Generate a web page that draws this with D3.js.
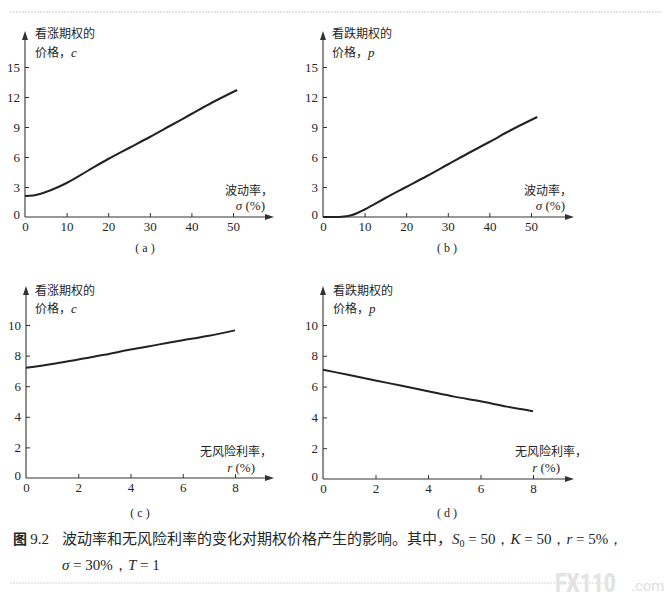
<!DOCTYPE html>
<html>
<head>
<meta charset="utf-8">
<style>
  body { margin: 0; background: #fff; }
  svg text { fill: #262626; }
  .num { font-family: "Liberation Serif", "DejaVu Serif", serif; font-size: 13px; }
  .cjk { font-family: "Noto Sans CJK SC", sans-serif; font-size: 12px; font-weight: 400; }
  .cap { font-family: "Noto Sans CJK SC", sans-serif; font-size: 15px; font-weight: 400; }
  .it { font-family: "Liberation Serif", serif; font-style: italic; }
  .rm { font-family: "Liberation Serif", serif; }
</style>
</head>
<body>
<svg id="fig" width="670" height="601"></svg>
<script src="https://cdnjs.cloudflare.com/ajax/libs/d3/7.8.5/d3.min.js"></script>
<script>
// values
const sigmaA = [0, 2, 4, 6, 8, 10, 15, 20, 25, 30, 35, 40, 45, 51];
const callVsSigma = [2.1, 2.15, 2.35, 2.65, 3.0, 3.4, 4.6, 5.8, 6.9, 8.0, 9.15, 10.3, 11.45, 12.7];
const sigmaB = [0, 2, 4, 5, 6, 7, 8, 10, 15, 20, 25, 30, 35, 40, 45, 51.5];
const putVsSigma = [0, 0, 0.01, 0.04, 0.1, 0.2, 0.35, 0.75, 1.9, 3.0, 4.1, 5.25, 6.4, 7.5, 8.65, 10.0];
const rateC = [0, 1, 2, 3, 4, 5, 6, 7, 8];
const callVsRate = [7.2, 7.45, 7.75, 8.05, 8.4, 8.7, 9.0, 9.3, 9.65];
const putVsRate = [7.1, 6.75, 6.4, 6.05, 5.7, 5.35, 5.05, 4.7, 4.4];

const sigmaTicks = [0, 10, 20, 30, 40, 50];
const priceTicksTop = [0, 3, 6, 9, 12, 15];
const rateTicks = [0, 2, 4, 6, 8];
const priceTicksBottom = [0, 2, 4, 6, 8, 10];

const svg = d3.select("#fig");

// faint scan lines at top and bottom
svg.append("line").attr("x1", 10).attr("x2", 662).attr("y1", 12).attr("y2", 12)
  .attr("stroke", "#ccc").attr("stroke-width", 1.2).attr("stroke-dasharray", "2,1");
svg.append("line").attr("x1", 10).attr("x2", 610).attr("y1", 583).attr("y2", 583)
  .attr("stroke", "#d6d6d6").attr("stroke-width", 1.2).attr("stroke-dasharray", "2,1");

const panels = [
  { xs: sigmaA, ys: callVsSigma, xDom: [0, 50], xPx: [25, 233], yDom: [0, 15], yPx: [217, 67],
    xEnd: 274, yTop: 31, xTicks: sigmaTicks, yTicks: priceTicksTop,
    top: ["看涨期权的", "价格，", "c"], topX: 35, topY: [38, 57],
    xl: ["波动率，", "σ", " (%)"], xlX: [273, 265], xlY: [195, 210],
    tag: "( a )", tagX: 145, tagY: 252 },
  { xs: sigmaB, ys: putVsSigma, xDom: [0, 50], xPx: [323, 531], yDom: [0, 15], yPx: [217, 67],
    xEnd: 574, yTop: 31, xTicks: sigmaTicks, yTicks: priceTicksTop,
    top: ["看跌期权的", "价格，", "p"], topX: 332, topY: [38, 57],
    xl: ["波动率，", "σ", " (%)"], xlX: [572, 565], xlY: [195, 210],
    tag: "( b )", tagX: 447, tagY: 252 },
  { xs: rateC, ys: callVsRate, xDom: [0, 8], xPx: [26, 235], yDom: [0, 10], yPx: [478, 325],
    xEnd: 274, yTop: 286, xTicks: rateTicks, yTicks: priceTicksBottom,
    top: ["看涨期权的", "价格，", "c"], topX: 35, topY: [295, 313],
    xl: ["无风险利率，", "r", " (%)"], xlX: [272, 255], xlY: [456, 472],
    tag: "( c )", tagX: 140, tagY: 517 },
  { xs: rateC, ys: putVsRate, xDom: [0, 8], xPx: [323, 533], yDom: [0, 10], yPx: [479, 325],
    xEnd: 574, yTop: 286, xTicks: rateTicks, yTicks: priceTicksBottom,
    top: ["看跌期权的", "价格，", "p"], topX: 333, topY: [295, 313],
    xl: ["无风险利率，", "r", " (%)"], xlX: [587, 560], xlY: [456, 472],
    tag: "( d )", tagX: 447, tagY: 517 }
];

panels.forEach(p => {
  const x = d3.scaleLinear().domain(p.xDom).range(p.xPx);
  const y = d3.scaleLinear().domain(p.yDom).range(p.yPx);
  const x0 = x(0), y0 = y(0);
  const g = svg.append("g");

  // axis lines with arrow heads
  g.append("line").attr("x1", x0).attr("x2", p.xEnd - 6).attr("y1", y0).attr("y2", y0)
    .attr("stroke", "#333").attr("stroke-width", 1.1);
  g.append("line").attr("x1", x0).attr("x2", x0).attr("y1", y0).attr("y2", p.yTop + 6)
    .attr("stroke", "#333").attr("stroke-width", 1.1);
  g.append("path").attr("d", `M${p.xEnd},${y0} L${p.xEnd - 9},${y0 - 3} L${p.xEnd - 9},${y0 + 3} Z`)
    .attr("fill", "#333");
  g.append("path").attr("d", `M${x0},${p.yTop} L${x0 - 3},${p.yTop + 9} L${x0 + 3},${p.yTop + 9} Z`)
    .attr("fill", "#333");

  const xa = g.append("g").attr("transform", `translate(0,${y0})`)
    .call(d3.axisBottom(x).tickValues(p.xTicks).tickSize(-4).tickPadding(5).tickFormat(d3.format("d")));
  const ya = g.append("g").attr("transform", `translate(${x0},0)`)
    .call(d3.axisLeft(y).tickValues(p.yTicks).tickSize(-4).tickPadding(5).tickFormat(d3.format("d")));
  [xa, ya].forEach(a => {
    a.select(".domain").remove();
    a.selectAll("line").attr("stroke", "#333");
    a.selectAll("text").attr("class", "num").attr("fill", "#262626").style("font-size", "13px");
  });
  ya.selectAll(".tick").filter(d => d === 0).select("text").attr("dy", "0.1em");
  xa.selectAll(".tick").filter(d => d === 0).select("line").remove();
  ya.selectAll(".tick").filter(d => d === 0).select("line").remove();

  // curve
  const line = d3.line().x(d => x(d[0])).y(d => y(d[1])).curve(d3.curveMonotoneX);
  g.append("path").datum(p.xs.map((v, i) => [v, p.ys[i]]))
    .attr("d", line).attr("fill", "none").attr("stroke", "#222").attr("stroke-width", 2);

  // y label
  g.append("text").attr("class", "cjk").attr("x", p.topX).attr("y", p.topY[0]).text(p.top[0]);
  const t2 = g.append("text").attr("class", "cjk").attr("x", p.topX).attr("y", p.topY[1]);
  t2.append("tspan").text(p.top[1]);
  t2.append("tspan").attr("class", "it").style("font-size", "13px").text(p.top[2]);

  // x label
  g.append("text").attr("class", "cjk").attr("x", p.xlX[0]).attr("y", p.xlY[0])
    .attr("text-anchor", "end").text(p.xl[0]);
  const t4 = g.append("text").attr("x", p.xlX[1]).attr("y", p.xlY[1]).attr("text-anchor", "end")
    .style("font-size", "13px");
  t4.append("tspan").attr("class", "it").text(p.xl[1]);
  t4.append("tspan").attr("class", "rm").text(p.xl[2]);

  g.append("text").attr("class", "rm").attr("x", p.tagX).attr("y", p.tagY)
    .attr("text-anchor", "middle").style("font-size", "12px").attr("xml:space", "preserve").text(p.tag);
});

// caption
const c1 = svg.append("text").attr("class", "cap").attr("y", 544);
c1.append("tspan").attr("x", 13).style("font-weight", 700).style("font-size", "14px").text("图 ");
c1.append("tspan").attr("class", "rm").style("font-size", "15px").text("9.2");
c1.append("tspan").attr("x", 62).text("波动率和无风险利率的变化对期权价格产生的影响。其中，");
c1.append("tspan").attr("class", "it").text("S");
c1.append("tspan").attr("class", "rm").attr("dy", 3).style("font-size", "10px").text("0");
c1.append("tspan").attr("class", "rm").attr("dy", -3).text(" = 50，");
c1.append("tspan").attr("class", "it").text("K");
c1.append("tspan").attr("class", "rm").text(" = 50，");
c1.append("tspan").attr("class", "it").text("r");
c1.append("tspan").attr("class", "rm").text(" = 5%，");

const c2 = svg.append("text").attr("class", "cap").attr("y", 570);
c2.append("tspan").attr("x", 62).attr("class", "it").text("σ");
c2.append("tspan").attr("class", "rm").text(" = 30%，");
c2.append("tspan").attr("class", "it").text("T");
c2.append("tspan").attr("class", "rm").text(" = 1");

// watermark
svg.append("text").attr("transform", "translate(555,592) scale(0.8,1)")
  .style("font-family", "Roboto, sans-serif").style("font-weight", 900)
  .style("font-size", "26px").style("fill", "#e3e3e3").text("FX110");
svg.append("text").attr("x", 631).attr("y", 591)
  .style("font-family", "Roboto, sans-serif").style("font-size", "15px")
  .style("fill", "#e0e0e0").text(".com");
</script>
</body>
</html>
